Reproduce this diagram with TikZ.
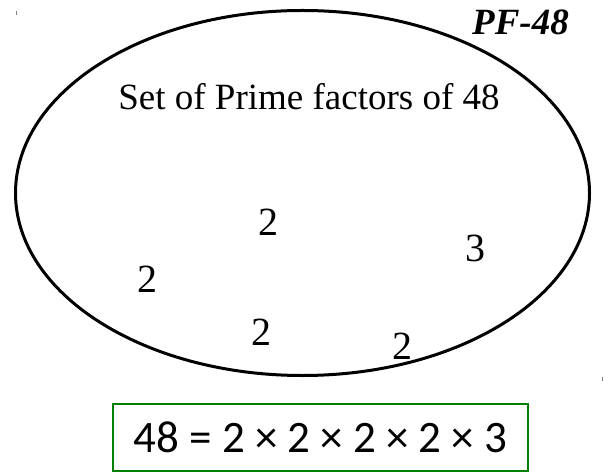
\documentclass[tikz,border=0pt]{standalone}
\usepackage{fontspec}
\usetikzlibrary{shapes.geometric}
\setmainfont{Liberation Serif}
\newfontfamily\eqfont{Carlito}
\begin{document}
\begin{tikzpicture}[x=1bp,y=-1bp,
  settext/.style={font=\fontsize{37bp}{42bp}\selectfont, inner sep=0pt},
  elem/.style={font=\fontsize{40bp}{46bp}\selectfont, inner sep=0pt},
  eqbox/.style={draw={rgb,255:red,0;green,128;blue,0}, line width=2.5bp, minimum width=415bp, minimum height=67bp, font=\eqfont\fontsize{45bp}{50bp}\selectfont, inner sep=0pt},
  tick/.style={draw=gray, line width=0.8bp}]
\useasboundingbox (0,0) rectangle (603,475);
\node[draw, line width=3bp, ellipse, minimum width=574bp, minimum height=365bp, inner sep=0pt] (set) at (302.5,193) {};
\node[font=\fontsize{37bp}{42bp}\selectfont\bfseries\itshape, inner sep=0pt] (title) at (520.5,22) {PF-48};
\node[settext] (lbl) at (309,97) {Set of Prime factors of 48};
\node[elem] (e1) at (268,222) {2};
\node[elem] (e2) at (475,248) {3};
\node[elem] (e3) at (147,279) {2};
\node[elem] (e4) at (261,332) {2};
\node[elem] (e5) at (402,346) {2};
\node[eqbox] (eq) at (320.5,437.5) {48 = 2 × 2 × 2 × 2 × 3};
\coordinate (m1a) at (16,11); \coordinate (m1b) at (16,15);
\coordinate (m2a) at (602,377); \coordinate (m2b) at (602,381);
\draw[tick] (m1a) -- (m1b);
\draw[tick] (m2a) -- (m2b);
\end{tikzpicture}
\end{document}
